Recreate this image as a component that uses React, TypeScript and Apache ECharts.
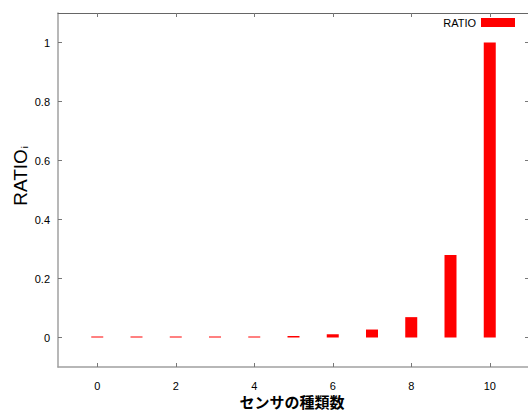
import React, { useEffect, useRef } from "react";
import * as echarts from "echarts";

const sensorCounts = [0, 1, 2, 3, 4, 5, 6, 7, 8, 9, 10];
const ratioValues = [0, 0, 0, 0, 0, 0.005, 0.011, 0.027, 0.069, 0.28, 1];
const xTicks = [0, 2, 4, 6, 8, 10];
const yTicks = [0, 0.2, 0.4, 0.6, 0.8, 1];
const xTitle = "センサの種類数";

export default function App() {
  const ref = useRef<HTMLDivElement>(null);
  useEffect(() => {
    document.body.style.margin = "0";
    const chart = echarts.init(ref.current!, undefined, { renderer: "svg" });
    const font = "Liberation Sans, Arial, sans-serif";
    chart.setOption({
      animation: false,
      backgroundColor: "#fff",
      grid: { left: 58, top: 13, width: 471, height: 354, outerBoundsMode: "none", containLabel: false },
      legend: {
        show: true,
        right: 13,
        top: 17,
        padding: 0,
        align: "right",
        icon: "rect",
        itemWidth: 34,
        itemHeight: 9,
        textStyle: { fontFamily: font, fontSize: 11, color: "#000", padding: [3, 0, 0, 0] },
        data: ["RATIO"],
      },
      xAxis: [
        {
          type: "value",
          position: "bottom",
          min: -1,
          max: 11,
          axisLine: { show: true, onZero: false, lineStyle: { color: "#a0a0a0", width: 1.5 } },
          axisTick: { show: true, inside: true, length: 4, customValues: xTicks, lineStyle: { color: "#777" } },
          axisLabel: { customValues: xTicks, color: "#000", fontSize: 11, fontFamily: font, margin: 13 },
          splitLine: { show: false },
        },
        {
          type: "value",
          position: "top",
          min: -1,
          max: 11,
          axisLine: { show: true, onZero: false, lineStyle: { color: "#666", width: 1 } },
          axisTick: { show: true, inside: true, length: 4, customValues: xTicks, lineStyle: { color: "#777" } },
          axisLabel: { show: false },
          splitLine: { show: false },
        },
      ],
      yAxis: [
        {
          type: "value",
          position: "left",
          min: -0.1,
          max: 1.1,
          axisLine: { show: true, onZero: false, lineStyle: { color: "#a0a0a0", width: 1.5 } },
          axisTick: { show: true, inside: true, length: 4, customValues: yTicks, lineStyle: { color: "#777" } },
          axisLabel: { customValues: yTicks, color: "#000", fontSize: 11, fontFamily: font, margin: 8 },
          splitLine: { show: false },
        },
        {
          type: "value",
          position: "right",
          min: -0.1,
          max: 1.1,
          axisLine: { show: true, onZero: false, lineStyle: { color: "#666" } },
          axisTick: { show: true, inside: true, length: 4, customValues: yTicks, lineStyle: { color: "#777" } },
          axisLabel: { show: false },
          splitLine: { show: false },
        },
      ],
      graphic: [
        {
          type: "text",
          x: 20,
          y: 176,
          rotation: Math.PI / 2,
          style: {
            text: "{a|RATIO}{b|i}",
            rich: {
              a: { fontFamily: font, fontSize: 19, fill: "#000" },
              b: { fontFamily: font, fontSize: 9, fill: "#000", padding: [10, 0, 0, 1] },
            },
            align: "center",
            verticalAlign: "middle",
          },
        },
        {
          type: "text",
          x: 292,
          y: 401,
          style: {
            text: xTitle,
            fontFamily: "Noto Sans CJK JP",
            fontSize: 15,
            fontWeight: "bold",
            lineHeight: 15,
            fill: "#000",
            align: "center",
            verticalAlign: "middle",
          },
        },
      ],
      series: [
        {
          name: "RATIO",
          type: "bar",
          xAxisIndex: 0,
          yAxisIndex: 0,
          barWidth: 12,
          barMinHeight: 1,
          itemStyle: { color: "#ff0000" },
          data: sensorCounts.map((x, i) => [x, ratioValues[i]]),
        },
      ],
    });
    return () => chart.dispose();
  }, []);
  return <div ref={ref} style={{ width: 528, height: 412 }} />;
}
